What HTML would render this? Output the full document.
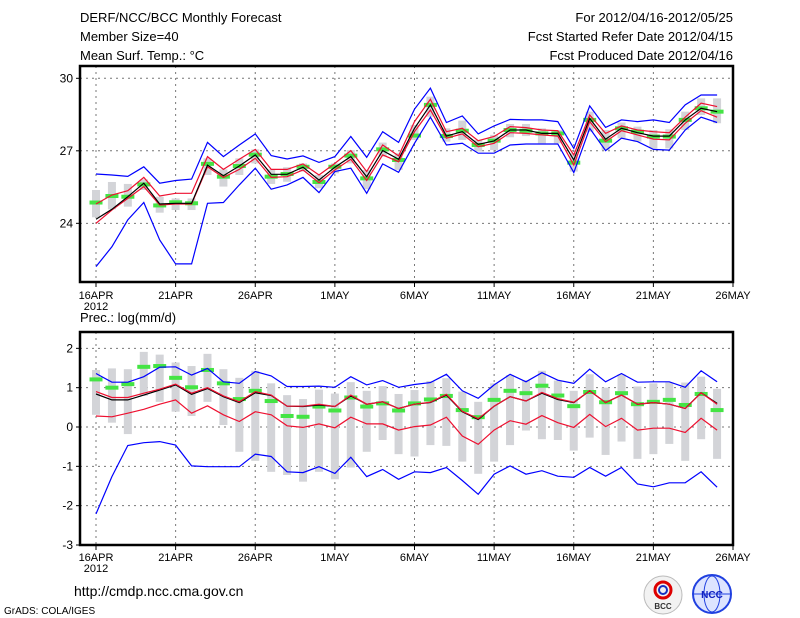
<!DOCTYPE html>
<html><head><meta charset="utf-8"><style>
body{margin:0;background:#fff;}
svg{display:block;font-family:"Liberation Sans",sans-serif;}
</style></head><body>
<svg id="c" width="800" height="618" viewBox="0 0 800 618">
<g font-size="13" fill="#000">
<text x="80" y="22">DERF/NCC/BCC Monthly Forecast</text>
<text x="80" y="41">Member Size=40</text>
<text x="80" y="60">Mean Surf. Temp.: °C</text>
<text x="733" y="22" text-anchor="end">For 2012/04/16-2012/05/25</text>
<text x="733" y="41" text-anchor="end">Fcst Started Refer Date 2012/04/15</text>
<text x="733" y="60" text-anchor="end">Fcst Produced Date 2012/04/16</text>
<text x="80" y="322">Prec.: log(mm/d)</text>
<text x="74" y="596" font-size="14">http://cmdp.ncc.cma.gov.cn</text>
<text x="4" y="614" font-size="10">GrADS: COLA/IGES</text>
</g>
<g>
<circle cx="663" cy="595" r="19" fill="#f2f2f2" stroke="#bbb"/>
<circle cx="663" cy="590" r="8" fill="none" stroke="#d00" stroke-width="3"/>
<circle cx="663" cy="590" r="4" fill="none" stroke="#1530c0" stroke-width="2"/>
<text x="663" y="609" font-size="8" text-anchor="middle" font-weight="bold" fill="#333">BCC</text>
</g>
<g>
<circle cx="712" cy="594" r="19" fill="#dde4ff" stroke="#2040e0" stroke-width="2"/>
<ellipse cx="712" cy="594" rx="8" ry="18" fill="none" stroke="#2040e0"/>
<line x1="694" y1="594" x2="730" y2="594" stroke="#2040e0"/>
<text x="712" y="598" font-size="10" text-anchor="middle" font-weight="bold" fill="#1020c0">NCC</text>
</g>
</svg>
<script>
// ---- data ----
const dayLabels = ["16APR","21APR","26APR","1MAY","6MAY","11MAY","16MAY","21MAY","26MAY"];
const tempTicks = [30,27,24];
const precTicks = [2,1,0,-1,-2,-3];
const tBlueHi = [26.04,26.0,25.94,26.34,25.66,25.77,25.83,27.35,26.76,27.24,27.70,26.80,26.66,26.79,26.52,26.76,27.59,26.73,27.79,27.35,28.72,29.59,28.17,28.44,27.70,28.03,28.30,28.28,28.28,28.21,27.10,28.86,27.97,28.28,28.21,28.28,28.17,28.90,29.31,29.31];
const tBlueLo = [22.21,23.03,24.14,24.86,23.31,22.32,22.32,24.83,24.86,25.59,26.28,25.41,25.59,25.90,25.27,26.14,26.28,25.24,26.46,26.11,27.31,28.39,27.24,27.31,26.90,26.90,27.24,27.28,27.28,27.28,26.10,27.93,27.01,27.52,27.38,27.06,27.03,27.86,28.39,28.17];
const tRedHi = [24.80,25.17,25.35,25.90,25.13,25.24,25.24,26.76,26.23,26.65,27.06,26.23,26.23,26.46,26.0,26.48,27.01,26.14,27.24,26.79,28.21,29.13,27.79,27.93,27.42,27.59,28.0,27.96,27.86,27.83,26.83,28.48,27.72,28.03,27.86,27.79,27.75,28.39,28.97,28.83];
const tRedLo = [24.0,24.55,25.03,25.52,24.76,24.8,24.8,26.34,25.90,26.23,26.69,25.90,25.93,26.21,25.68,26.21,26.65,25.77,26.83,26.55,27.79,28.69,27.52,27.70,27.17,27.31,27.75,27.72,27.66,27.61,26.41,28.21,27.38,27.83,27.66,27.48,27.45,28.14,28.66,28.39];
const tMean = [24.17,24.58,25.10,25.66,24.80,24.83,24.83,26.41,25.97,26.37,26.83,26.03,26.03,26.32,25.79,26.32,26.76,25.93,27.01,26.65,27.93,28.90,27.61,27.79,27.27,27.41,27.86,27.86,27.72,27.72,26.62,28.34,27.48,27.93,27.75,27.61,27.61,28.28,28.76,28.62];
const tGreen = [24.86,25.13,25.10,25.61,24.74,24.87,24.83,26.46,25.93,26.37,26.84,25.93,26.04,26.34,25.71,26.34,26.80,25.86,27.06,26.62,27.63,28.90,27.61,27.83,27.24,27.42,27.86,27.83,27.72,27.72,26.51,28.28,27.42,27.93,27.79,27.59,27.59,28.28,28.76,28.62];
const tGreyHi = [25.38,25.71,25.63,25.82,25.10,25.03,25.03,26.69,26.23,26.69,27.06,26.23,26.32,26.48,26.0,26.48,27.03,26.21,27.34,26.90,28.07,29.24,27.93,28.25,27.45,27.66,28.11,28.11,27.93,27.86,26.90,28.62,27.86,28.17,28.0,27.86,27.89,28.62,29.17,29.17];
const tGreyLo = [24.25,24.58,24.69,25.38,24.44,24.55,24.55,26.0,25.52,26.0,26.48,25.63,25.72,26.14,25.45,26.07,26.48,25.41,26.76,26.21,27.45,28.41,27.38,27.45,26.97,27.03,27.56,27.61,27.31,27.31,26.14,27.79,27.03,27.52,27.38,27.10,27.10,27.86,28.48,28.14];
const pBlueHi = [1.36,1.14,1.14,1.28,1.52,1.53,1.32,1.49,1.15,1.11,1.41,1.30,1.03,1.03,1.04,1.01,1.28,1.07,1.18,1.01,1.08,1.13,1.34,0.92,0.73,1.07,1.34,1.15,1.38,1.19,1.11,1.47,1.15,1.36,1.14,1.15,1.15,1.01,1.43,1.15];
const pBlueLo = [-2.21,-1.26,-0.47,-0.40,-0.37,-0.46,-0.99,-1.01,-1.01,-1.01,-0.69,-0.75,-1.14,-1.16,-1.01,-1.18,-0.77,-1.26,-1.08,-1.33,-1.14,-1.16,-1.03,-1.36,-1.71,-1.20,-0.99,-1.20,-1.11,-1.25,-1.28,-1.03,-1.25,-1.03,-1.45,-1.52,-1.42,-1.42,-1.14,-1.53];
const pRedHi = [0.90,0.75,0.75,0.86,0.96,1.09,0.86,1.0,0.79,0.64,0.90,0.81,0.53,0.53,0.58,0.52,0.81,0.58,0.64,0.47,0.58,0.63,0.83,0.40,0.21,0.53,0.77,0.66,0.88,0.72,0.63,0.92,0.62,0.81,0.58,0.62,0.58,0.47,0.87,0.58];
const pRedLo = [0.28,0.26,0.35,0.45,0.58,0.69,0.35,0.54,0.31,0.14,0.39,0.31,0.03,-0.01,0.08,-0.02,0.25,0.08,0.08,-0.08,0.01,0.05,0.25,-0.23,-0.44,-0.08,0.16,0.07,0.29,0.11,-0.01,0.32,0.01,0.22,-0.08,-0.03,-0.03,-0.14,0.22,-0.08];
const pMean = [0.84,0.69,0.69,0.81,0.94,1.07,0.83,0.98,0.77,0.62,0.87,0.80,0.53,0.52,0.56,0.52,0.79,0.58,0.64,0.47,0.58,0.62,0.81,0.39,0.19,0.53,0.77,0.66,0.86,0.70,0.62,0.92,0.62,0.81,0.58,0.62,0.58,0.47,0.87,0.60];
const pGreen = [1.21,1.0,1.09,1.53,1.55,1.25,1.01,1.45,1.11,0.71,0.92,0.66,0.28,0.26,0.52,0.42,0.75,0.52,0.60,0.42,0.60,0.70,0.79,0.43,0.25,0.69,0.92,0.86,1.05,0.80,0.53,0.89,0.63,0.86,0.58,0.64,0.69,0.56,0.84,0.43];
const pGreyHi = [1.45,1.49,1.47,1.91,1.84,1.64,1.55,1.86,1.47,1.25,1.43,1.11,0.81,0.71,0.95,0.85,1.14,0.92,1.04,0.84,0.94,1.17,1.24,0.90,0.64,1.11,1.32,1.19,1.43,1.18,0.92,1.34,1.00,1.34,1.03,1.11,1.13,1.13,1.28,0.97];
const pGreyLo = [0.31,0.11,-0.18,0.79,0.64,0.39,0.28,0.64,0.05,-0.63,-0.86,-1.14,-1.22,-1.39,-1.14,-1.33,-1.03,-0.63,-0.33,-0.69,-0.75,-0.46,-0.48,-0.88,-1.19,-0.88,-0.46,-0.09,-0.31,-0.33,-0.60,-0.27,-0.71,-0.37,-0.81,-0.69,-0.43,-0.86,-0.31,-0.81];

// ---- layout ----
const NS = "http://www.w3.org/2000/svg";
const svg = document.getElementById('c');
const X0 = 96, DX = (733 - 96) / 40, FL = 80, FR = 733;
const xs = d => X0 + d * DX;
const panels = [
  {name:'temp', top:66, bot:282, y:v => 78.3 - (v - 30) * 24.17, ticks:tempTicks,
   blueHi:tBlueHi, blueLo:tBlueLo, redHi:tRedHi, redLo:tRedLo, mean:tMean, green:tGreen, gHi:tGreyHi, gLo:tGreyLo, labY:299},
  {name:'prec', top:332, bot:545, y:v => 427 - v * 39.33, ticks:precTicks,
   blueHi:pBlueHi, blueLo:pBlueLo, redHi:pRedHi, redLo:pRedLo, mean:pMean, green:pGreen, gHi:pGreyHi, gLo:pGreyLo, labY:561}
];
function mk(tag, attrs, parent) {
  const e = document.createElementNS(NS, tag);
  for (const k in attrs) e.setAttribute(k, attrs[k]);
  (parent || svg).appendChild(e);
  return e;
}
panels.forEach(p => {
  const g = mk('g', {});
  
  
  // grid
  p.ticks.forEach(t => {
    const yy = p.y(t);
    if (yy > p.top + 2 && yy < p.bot - 2) {
      const gl = mk('line', {x1:FL, x2:FR, y1:yy, y2:yy, stroke:'#777', 'stroke-dasharray':'2,4', 'stroke-width':1}, g);
      
      
    }
    mk('line', {x1:FL-4, x2:FL, y1:yy, y2:yy, stroke:'#000'}, g);
    const tl = mk('text', {x:FL-7, y:yy+4, 'text-anchor':'end', 'font-size':12}, g);
    tl.textContent = t;
    
    
  });
  dayLabels.forEach((lab, i) => {
    const xx = xs(i * 5);
    if (i < 8) {
      const gl = mk('line', {x1:xx, x2:xx, y1:p.top, y2:p.bot, stroke:'#777', 'stroke-dasharray':'2,4'}, g);
      
      
    }
    mk('line', {x1:xx, x2:xx, y1:p.bot, y2:p.bot+5, stroke:'#000'}, g);
    const tl = mk('text', {x:xx, y:p.labY, 'text-anchor':'middle', 'font-size':11}, g);
    tl.textContent = lab;
    
    
  });
  const yr = mk('text', {x:xs(0), y:p.labY+11, 'text-anchor':'middle', 'font-size':11}, g);
  yr.textContent = '2012';
  
  
  // grey ranges
  p.gHi.forEach((v, d) => {
    const y1 = p.y(v), y2 = p.y(p.gLo[d]);
    const r = mk('rect', {x:xs(d)-4, y:y1, width:8, height:Math.max(1, y2-y1), fill:'#d3d4d8'}, g);
    
    
  });
  // green markers
  p.green.forEach((v, d) => {
    const r = mk('rect', {x:xs(d)-6.5, y:p.y(v)-2, width:13, height:4, fill:'#44e444'}, g);
    
    
  });
  const series = [['blueHi','#0000ff','blue-upper-line'],['blueLo','#0000ff','blue-lower-line'],
                  ['redLo','#ee1030','red-lower-line'],['mean','#000','ensemble-mean-line'],['redHi','#ee1030','red-upper-line']];
  series.forEach(([k, col, nm]) => {
    const pts = p[k].map((v, d) => xs(d).toFixed(1) + ',' + p.y(v).toFixed(1)).join(' ');
    const pl = mk('polyline', {points:pts, fill:'none', stroke:col, 'stroke-width':1.2}, g);
    
    
  });
  const fr = mk('rect', {x:FL, y:p.top, width:FR-FL, height:p.bot-p.top, fill:'none', stroke:'#000', 'stroke-width':2.5}, g);
  
  
});
</script>
</body></html>
